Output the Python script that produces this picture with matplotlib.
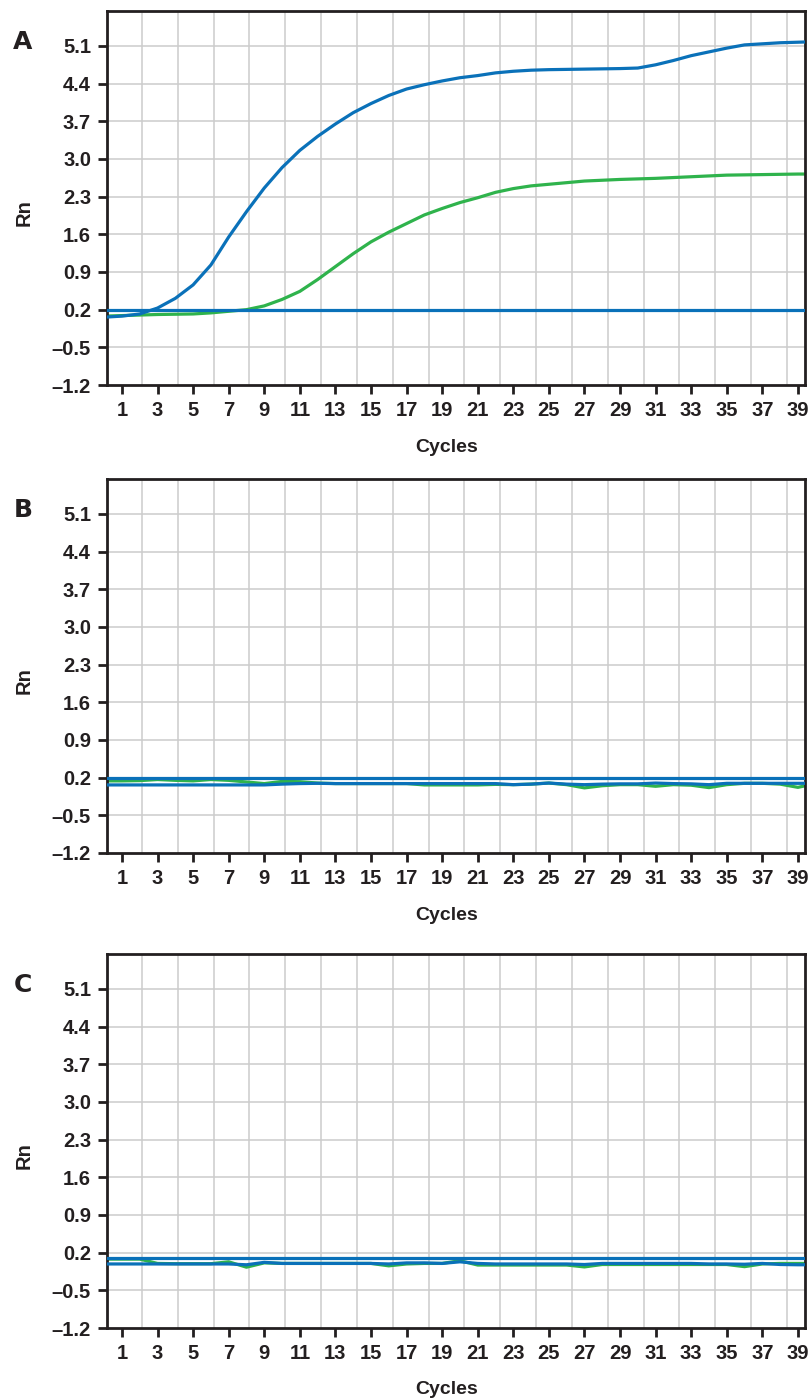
import numpy as np
import matplotlib
matplotlib.use('Agg')
import matplotlib.pyplot as plt

cycles = list(range(0, 41))

# panel A - amplification curves
a_blue = [0.06, 0.08, 0.12, 0.23, 0.41, 0.66, 1.03, 1.55, 2.02, 2.46, 2.84, 3.16, 3.42, 3.65,
          3.86, 4.03, 4.18, 4.30, 4.38, 4.45, 4.51, 4.55, 4.60, 4.63, 4.65, 4.66, 4.665, 4.67,
          4.675, 4.68, 4.69, 4.75, 4.83, 4.92, 4.99, 5.06, 5.12, 5.14, 5.16, 5.17, 5.18]
a_green = [0.08, 0.09, 0.10, 0.11, 0.115, 0.12, 0.14, 0.17, 0.20, 0.27, 0.39, 0.54, 0.76, 1.00,
           1.24, 1.46, 1.64, 1.80, 1.96, 2.08, 2.19, 2.28, 2.38, 2.45, 2.50, 2.53, 2.56, 2.59,
           2.605, 2.62, 2.63, 2.64, 2.655, 2.67, 2.685, 2.70, 2.705, 2.71, 2.715, 2.72, 2.72]
a_thresh = 0.2

# panel B - no amplification
b_blue = [0.065, 0.065, 0.065, 0.065, 0.065, 0.065, 0.065, 0.065, 0.065, 0.065, 0.08, 0.09,
          0.095, 0.09, 0.09, 0.09, 0.09, 0.09, 0.09, 0.09, 0.09, 0.09, 0.09, 0.07, 0.08, 0.10,
          0.08, 0.07, 0.08, 0.085, 0.085, 0.10, 0.09, 0.085, 0.07, 0.095, 0.095, 0.095, 0.095,
          0.095, 0.095]
b_green = [0.14, 0.14, 0.145, 0.165, 0.15, 0.14, 0.165, 0.15, 0.12, 0.09, 0.13, 0.125, 0.10,
           0.09, 0.09, 0.09, 0.09, 0.09, 0.065, 0.065, 0.065, 0.065, 0.075, 0.07, 0.08, 0.10,
           0.07, 0.01, 0.05, 0.07, 0.07, 0.04, 0.07, 0.06, 0.015, 0.07, 0.095, 0.095, 0.08,
           0.02, 0.09]
b_thresh = 0.2

# panel C - no amplification
c_blue = [-0.01, -0.01, -0.01, -0.01, -0.01, -0.01, -0.01, -0.01, -0.025, 0.02, 0.0, 0.0,
          0.0, 0.0, 0.0, 0.0, -0.01, 0.01, 0.01, 0.0, 0.03, 0.0, -0.01, -0.01, -0.01, -0.01,
          -0.01, -0.02, 0.0, 0.0, 0.0, 0.0, 0.0, 0.0, -0.01, -0.01, -0.015, 0.0, -0.02,
          -0.025, -0.025]
c_green = [0.08, 0.08, 0.08, 0.0, -0.005, -0.005, -0.005, 0.03, -0.07, 0.01, 0.0, 0.0, 0.0,
           0.0, 0.0, 0.0, -0.045, -0.01, 0.0, 0.0, 0.05, -0.03, -0.03, -0.03, -0.03, -0.03,
           -0.03, -0.065, -0.02, -0.02, -0.02, -0.02, -0.02, -0.02, -0.02, -0.02, -0.06, -0.01,
           0.0, 0.0, 0.0]
c_thresh = 0.1

panels = [('A', a_blue, a_green, a_thresh),
          ('B', b_blue, b_green, b_thresh),
          ('C', c_blue, c_green, c_thresh)]

yticks = [-1.2, -0.5, 0.2, 0.9, 1.6, 2.3, 3.0, 3.7, 4.4, 5.1]
xticks = list(range(1, 40, 2))

BLUE = '#0a71b9'
GREEN = '#2fb34c'
DARK = '#231f20'

plt.rcParams['font.family'] = ['Liberation Sans', 'DejaVu Sans']
plt.rcParams['font.weight'] = 'bold'

fig = plt.figure(figsize=(8.1, 14), dpi=100)

bottoms = [1 - 385 / 1400, 1 - 853 / 1400, 1 - 1328 / 1400]
for (label, blue, green, thr), b in zip(panels, bottoms):
    ax = fig.add_axes([107 / 810, b, 698 / 810, 374 / 1400])
    # grid
    for yv in yticks[1:]:
        ax.axhline(yv, color='#cccccc', lw=1.1, zorder=0)
    for xv in np.linspace(2.12, 38.38, 19):
        ax.axvline(xv, color='#cccccc', lw=1.1, zorder=0)

    ax.plot(cycles, green, color=GREEN, lw=2.3, zorder=2)
    ax.plot(cycles, blue, color=BLUE, lw=2.3, zorder=3)
    ax.axhline(thr, color=BLUE, lw=2.3, zorder=4)

    ax.set_xlim(0.16, 39.4)
    ax.set_ylim(-1.2, 5.75)
    ax.set_yticks(yticks)
    ax.set_yticklabels([('%.1f' % v).replace('-', '\u2013') for v in yticks])
    ax.set_xticks(xticks)
    ax.tick_params(axis='both', direction='out', length=6.5, width=2, color=DARK,
                   labelsize=14.5, labelcolor=DARK, pad=5)
    for lab in ax.get_xticklabels() + ax.get_yticklabels():
        lab.set_fontweight('bold')
    for s in ax.spines.values():
        s.set_linewidth(2)
        s.set_color(DARK)

    top_px = 1400 * (1 - (b + 374 / 1400))
    bot_px = 1400 * (1 - b)
    fig.text(23 / 810, 1 - (top_px + 31) / 1400, label, fontsize=18, fontweight='heavy',
             color=DARK, ha='center', va='center', family=['DejaVu Sans'])
    fig.text(24 / 810, 1 - (top_px + 202) / 1400, 'Rn', fontsize=14.5, fontweight='bold',
             color=DARK, ha='center', va='center', rotation=90)
    fig.text(447 / 810, 1 - (bot_px + 62) / 1400, 'Cycles', fontsize=14,
             fontweight='bold', color=DARK, ha='center', va='center')

fig.savefig('out.png', dpi=100)
